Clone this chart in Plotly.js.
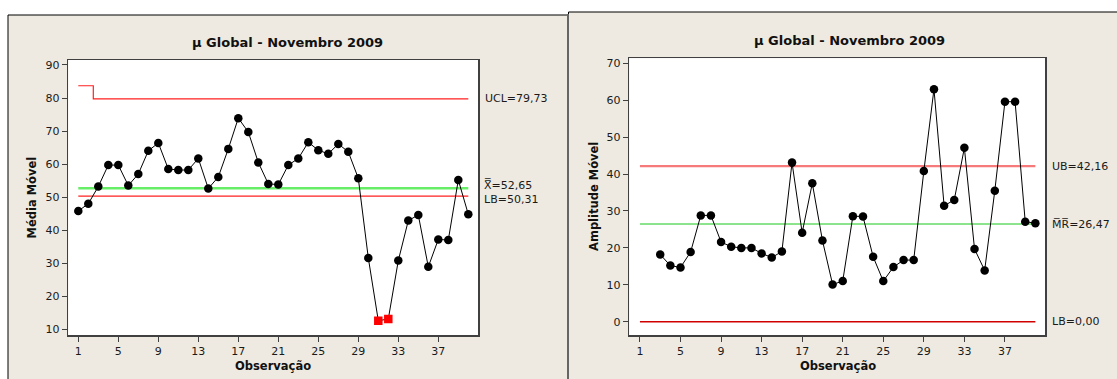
<!DOCTYPE html>
<html>
<head>
<meta charset="utf-8">
<script src="https://cdn.plot.ly/plotly-3.0.1.min.js"></script>
<style>
  html, body { margin: 0; padding: 0; background: #ffffff; }
  #chart { width: 1117px; height: 379px; }
</style>
</head>
<body>
<div id="chart"></div>
<script>
// ---------- DATA ----------
const chartTitle = "µ Global - Novembro 2009";
const xTitle = "Observação";
const leftYTitle = "Média Móvel";
const rightYTitle = "Amplitude Móvel";
const xTickVals = [1, 5, 9, 13, 17, 21, 25, 29, 33, 37];

// Left chart: moving average (observations 1..40)
const obsLeft = [1,2,3,4,5,6,7,8,9,10,11,12,13,14,15,16,17,18,19,20,
                 21,22,23,24,25,26,27,28,29,30,31,32,33,34,35,36,37,38,39,40];
const mediaMovel = [45.8, 48.0, 53.2, 59.7, 59.7, 53.5, 57.0, 64.0, 66.4, 58.5,
                    58.2, 58.2, 61.7, 52.6, 56.1, 64.6, 73.9, 69.7, 60.5, 54.0,
                    53.8, 59.7, 61.7, 66.6, 64.2, 63.1, 66.1, 63.7, 55.7, 31.6,
                    12.6, 13.1, 30.8, 42.9, 44.6, 28.9, 37.2, 37.0, 55.2, 44.8];
const flaggedObs = [31, 32];   // points flagged in red

// Left chart control lines
const uclStepX = [1, 2, 3, 40];
const uclStepY = [83.7, 83.7, 79.73, 79.73];
const xbarValue = 52.65;
const lbLeftValue = 50.31;
const limitSpan = [1, 40];

// Right chart: moving range (observations 3..40)
const obsRight = [3,4,5,6,7,8,9,10,11,12,13,14,15,16,17,18,19,20,21,
                  22,23,24,25,26,27,28,29,30,31,32,33,34,35,36,37,38,39,40];
const amplitudeMovel = [18.2, 15.2, 14.7, 18.9, 28.8, 28.8, 21.6, 20.3, 20.0, 20.0,
                        18.5, 17.4, 19.0, 43.1, 24.1, 37.5, 22.0, 10.1, 11.0,
                        28.6, 28.5, 17.6, 11.0, 14.8, 16.7, 16.7, 40.8, 63.0, 31.4,
                        33.0, 47.1, 19.7, 13.9, 35.5, 59.6, 59.6, 27.1, 26.7];
const ubValue = 42.16;
const mrValue = 26.47;
const lbRightValue = 0.00;

// Labels
const leftLabels = ["UCL=79,73", "X\u033F=52,65", "LB=50,31"];
const rightLabels = ["UB=42,16", "M\u0305R\u0305=26,47", "LB=0,00"];

// ---------- LAYOUT HELPERS ----------
const W = 1117, H = 379;
const px = x => x / W;
const py = y => 1 - y / H;

const panelColor = "#EEEAE1";
const frameColor = "#404040";
const tickFont = {family: "DejaVu Sans, Verdana, sans-serif", size: 11, color: "#1a1a1a"};
const labelFont = {family: "DejaVu Sans, Verdana, sans-serif", size: 11, color: "#1a1a1a"};
const boldFont = {family: "DejaVu Sans, Verdana, sans-serif", size: 11.5, color: "#111"};
const titleFont = {family: "DejaVu Sans, Verdana, sans-serif", size: 13, color: "#111"};

const L = {x0: 68.3, x1: 478.3, y0: 60, y1: 335};
const R = {x0: 629.3, x1: 1045, y0: 58.3, y1: 335};

const isFlagged = obsLeft.map(o => flaggedObs.includes(o));

const traces = [
  // left control lines
  {x: uclStepX, y: uclStepY, xaxis: "x", yaxis: "y", mode: "lines",
   line: {color: "#FF2020", width: 1.2, shape: "hvh"}, hoverinfo: "skip"},
  {x: limitSpan, y: limitSpan.map(() => xbarValue), xaxis: "x", yaxis: "y", mode: "lines",
   line: {color: "#66EE66", width: 2.5}, hoverinfo: "skip"},
  {x: limitSpan, y: limitSpan.map(() => lbLeftValue), xaxis: "x", yaxis: "y", mode: "lines",
   line: {color: "#FF2020", width: 1.2}, hoverinfo: "skip"},
  // left data
  {x: obsLeft, y: mediaMovel, xaxis: "x", yaxis: "y", mode: "lines+markers",
   line: {color: "#000", width: 1},
   marker: {size: 8.5, opacity: 1,
            symbol: isFlagged.map(f => f ? "square" : "circle"),
            color: isFlagged.map(f => f ? "#FF0000" : "#000"),
            line: {width: 0}}},
  // right control lines
  {x: limitSpan, y: limitSpan.map(() => ubValue), xaxis: "x2", yaxis: "y2", mode: "lines",
   line: {color: "#F77A7A", width: 2.2}, hoverinfo: "skip"},
  {x: limitSpan, y: limitSpan.map(() => mrValue), xaxis: "x2", yaxis: "y2", mode: "lines",
   line: {color: "#18C818", width: 1}, hoverinfo: "skip"},
  {x: limitSpan, y: limitSpan.map(() => lbRightValue), xaxis: "x2", yaxis: "y2", mode: "lines",
   line: {color: "#D00000", width: 1.4}, hoverinfo: "skip"},
  // right data
  {x: obsRight, y: amplitudeMovel, xaxis: "x2", yaxis: "y2", mode: "lines+markers",
   line: {color: "#000", width: 1},
   marker: {size: 8.5, opacity: 1, symbol: "circle", color: "#000", line: {width: 0}}}
];

const axisCommon = {
  showline: true, mirror: true, linecolor: frameColor, linewidth: 1.5,
  ticks: "outside", ticklen: 5, tickwidth: 1, tickcolor: frameColor,
  showgrid: false, zeroline: false, tickfont: tickFont, fixedrange: true
};

const layout = {
  width: W, height: H,
  margin: {l: 0, r: 0, t: 0, b: 0},
  paper_bgcolor: "#ffffff",
  plot_bgcolor: "rgba(0,0,0,0)",
  showlegend: false,
  xaxis: Object.assign({}, axisCommon, {domain: [px(L.x0), px(L.x1)], range: [0, 41],
          tickmode: "array", tickvals: xTickVals, anchor: "y"}),
  yaxis: Object.assign({}, axisCommon, {domain: [py(L.y1), py(L.y0)], range: [8.27, 91.5],
          tickmode: "linear", tick0: 10, dtick: 10, anchor: "x"}),
  xaxis2: Object.assign({}, axisCommon, {domain: [px(R.x0), px(R.x1)], range: [-0.05, 40.95],
          tickmode: "array", tickvals: xTickVals, anchor: "y2"}),
  yaxis2: Object.assign({}, axisCommon, {domain: [py(R.y1), py(R.y0)], range: [-3.6, 71.36],
          tickmode: "linear", tick0: 0, dtick: 10, anchor: "x2"}),
  shapes: [
    {type: "rect", xref: "paper", yref: "paper", layer: "below",
     x0: px(8), x1: px(567.5), y0: py(390), y1: py(15),
     fillcolor: panelColor, line: {color: "#000", width: 1}},
    {type: "rect", xref: "paper", yref: "paper", layer: "below",
     x0: px(568.5), x1: px(1130), y0: py(390), y1: py(12),
     fillcolor: panelColor, line: {color: "#000", width: 1}},
    {type: "line", xref: "paper", yref: "paper", layer: "below",
     x0: px(568), x1: px(568), y0: py(390), y1: py(14),
     line: {color: "#666", width: 2}},
    {type: "rect", xref: "paper", yref: "paper", layer: "below",
     x0: px(L.x0), x1: px(L.x1), y0: py(L.y1), y1: py(L.y0),
     fillcolor: "#ffffff", line: {width: 0}},
    {type: "rect", xref: "paper", yref: "paper", layer: "below",
     x0: px(R.x0), x1: px(R.x1), y0: py(R.y1), y1: py(R.y0),
     fillcolor: "#ffffff", line: {width: 0}}
  ],
  annotations: [
    // titles
    {text: "<b>" + chartTitle + "</b>", xref: "paper", yref: "paper", x: px(287.5), y: py(42.5),
     xanchor: "center", yanchor: "middle", showarrow: false, font: titleFont},
    {text: "<b>" + chartTitle + "</b>", xref: "paper", yref: "paper", x: px(849), y: py(40),
     xanchor: "center", yanchor: "middle", showarrow: false, font: titleFont},
    // axis titles
    {text: "<b>" + xTitle + "</b>", xref: "paper", yref: "paper", x: px(273.3), y: py(365.5),
     xanchor: "center", yanchor: "middle", showarrow: false, font: boldFont},
    {text: "<b>" + xTitle + "</b>", xref: "paper", yref: "paper", x: px(838), y: py(365.5),
     xanchor: "center", yanchor: "middle", showarrow: false, font: boldFont},
    {text: "<b>" + leftYTitle + "</b>", xref: "paper", yref: "paper", x: px(31), y: py(197.5),
     xanchor: "center", yanchor: "middle", showarrow: false, textangle: -90, font: boldFont},
    {text: "<b>" + rightYTitle + "</b>", xref: "paper", yref: "paper", x: px(594), y: py(197),
     xanchor: "center", yanchor: "middle", showarrow: false, textangle: -90, font: boldFont},
    // left limit labels
    {text: leftLabels[0], xref: "paper", yref: "y", x: px(483), y: uclStepY[3],
     xanchor: "left", yanchor: "middle", showarrow: false, font: labelFont},
    {text: leftLabels[1], xref: "paper", yref: "y", x: px(483), y: xbarValue, yshift: 3,
     xanchor: "left", yanchor: "middle", showarrow: false, font: labelFont, borderpad: 0},
    {text: leftLabels[2], xref: "paper", yref: "y", x: px(483), y: lbLeftValue, yshift: -3,
     xanchor: "left", yanchor: "middle", showarrow: false, font: labelFont, borderpad: 0},
    // right limit labels
    {text: rightLabels[0], xref: "paper", yref: "y2", x: px(1050), y: ubValue,
     xanchor: "left", yanchor: "middle", showarrow: false, font: labelFont},
    {text: rightLabels[1], xref: "paper", yref: "y2", x: px(1050), y: mrValue,
     xanchor: "left", yanchor: "middle", showarrow: false, font: labelFont},
    {text: rightLabels[2], xref: "paper", yref: "y2", x: px(1050), y: lbRightValue,
     xanchor: "left", yanchor: "middle", showarrow: false, font: labelFont}
  ]
};

Plotly.newPlot("chart", traces, layout, {displayModeBar: false, staticPlot: true});
</script>
</body>
</html>
